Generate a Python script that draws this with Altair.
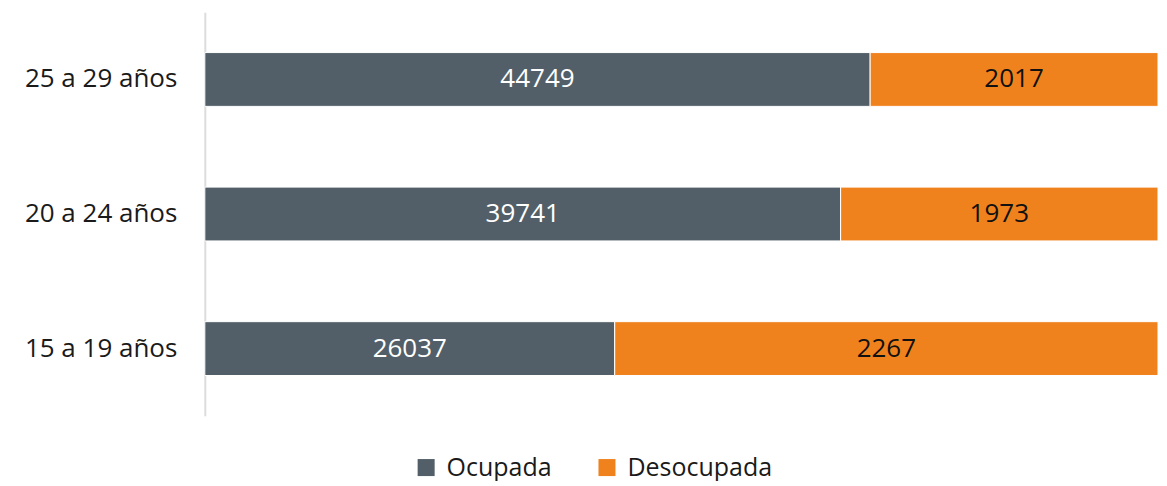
import altair as alt
import pandas as pd

grupos = ["25 a 29 años", "20 a 24 años", "15 a 19 años"]
series = ["Ocupada", "Desocupada"]
# reported values (labels)
ocupada = [44749, 39741, 26037]
desocupada = [2017, 1973, 2267]
# bar lengths (share of the axis, %)
largo_ocupada = [69.8, 66.7, 43.0]
largo_desocupada = [30.2, 33.3, 57.0]

rows = []
for i, g in enumerate(grupos):
    rows.append({"grupo": g, "serie": "Ocupada", "orden": 0, "largo": largo_ocupada[i],
                 "valor": ocupada[i], "tc": "#ffffff"})
    rows.append({"grupo": g, "serie": "Desocupada", "orden": 1, "largo": largo_desocupada[i],
                 "valor": desocupada[i], "tc": "#111111"})
df = pd.DataFrame(rows)

FONT = "Open Sans"
FS = 26

base = alt.Chart(df).transform_stack(
    stack="largo", groupby=["grupo"], as_=["x0", "x1"], sort=[alt.SortField("orden")]
).transform_calculate(mid="(datum.x0 + datum.x1) / 2")

yenc = alt.Y("grupo:N", sort=grupos, title=None,
             scale=alt.Scale(paddingInner=0.6, paddingOuter=0.3),
             axis=alt.Axis(ticks=False, labelPadding=28, labelFontSize=FS, labelFont=FONT,
                           labelColor="#1a1a1a", domainColor="#dcdcdc", domainWidth=2,
                           minExtent=197, maxExtent=197, labelLimit=300))

bars = base.mark_bar(stroke="white", strokeWidth=1).encode(
    x=alt.X("x0:Q", scale=alt.Scale(domain=[0, 100], nice=False), axis=None),
    x2="x1:Q",
    y=yenc,
    color=alt.Color("serie:N", scale=alt.Scale(domain=series, range=["#525f68", "#f0821e"]),
                    legend=alt.Legend(title=None, orient="none", direction="horizontal",
                                      legendX=209, legendY=443, symbolType="square",
                                      symbolSize=290, symbolStrokeWidth=0, labelFontSize=25,
                                      labelFont=FONT, labelColor="#1a1a1a", columnPadding=42,
                                      labelOffset=8, labelBaseline="middle")),
)

texts = base.mark_text(fontSize=FS, font=FONT).encode(
    x=alt.X("mid:Q"),
    y=alt.Y("grupo:N", sort=grupos),
    text=alt.Text("valor:Q", format="d"),
    color=alt.Color("tc:N", scale=None),
)

chart = alt.layer(bars, texts).properties(
    width=954, height=404, background="white",
    padding={"left": 0, "top": 4, "right": 0, "bottom": 0},
).configure_view(strokeWidth=0, stroke=None)

chart.save("out.html", embed_options={"renderer": "svg", "actions": False})
